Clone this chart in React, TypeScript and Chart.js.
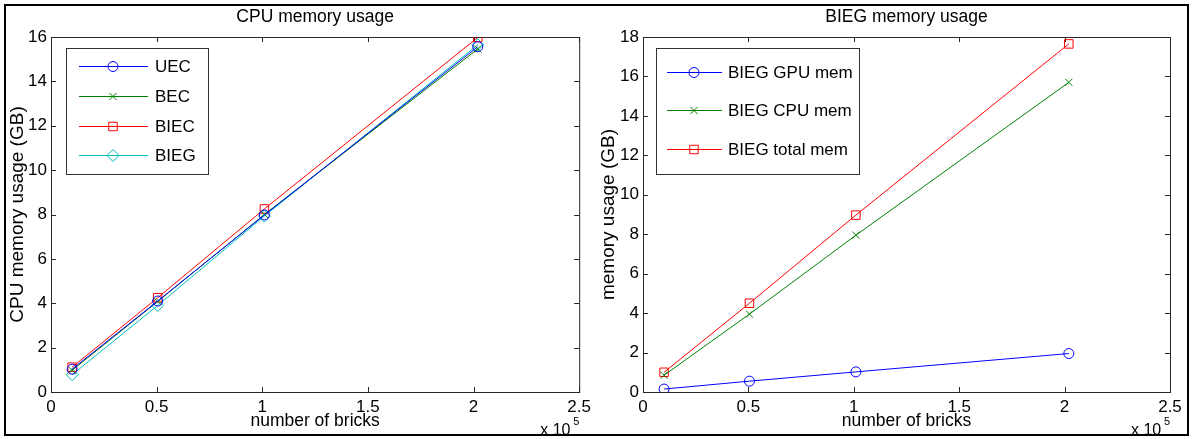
import React, { useEffect, useRef } from 'react';
import Chart from 'chart.js/auto';
import { drawPoint } from 'chart.js/helpers';

// ---------- data ----------
const bricks = [0.1, 0.505, 1.01, 2.02]; // x 10^5
const uec = [1.03, 4.1, 7.98, 15.56];
const bec = [0.98, 4.08, 8.0, 15.46];
const biec = [1.12, 4.25, 8.25, 15.98];
const bieg = [0.78, 3.9, 7.93, 15.65];

const gpuMem = [0.15, 0.55, 1.02, 1.95];
const cpuMem = [0.85, 3.95, 7.95, 15.7];
const totalMem = [1.0, 4.5, 8.97, 17.65];

const leftLabels = ['UEC', 'BEC', 'BIEC', 'BIEG'];
const rightLabels = ['BIEG GPU mem', 'BIEG CPU mem', 'BIEG total mem'];

const FONT = "'Liberation Sans', Arial, Helvetica, sans-serif";
const BLUE = '#0000ff';
const GREEN = '#008000';
const RED = '#ff0000';
const CYAN = '#00bfbf';

const pts = (ys: number[]) => bricks.map((x, i) => ({ x, y: ys[i] }));

function ds(label: string, ys: number[], color: string, style: string, radius: number) {
  return {
    label,
    data: pts(ys),
    borderColor: color,
    backgroundColor: 'rgba(0,0,0,0)',
    borderWidth: 1,
    pointStyle: style,
    pointRadius: radius,
    pointBorderColor: color,
    pointBackgroundColor: 'rgba(0,0,0,0)',
    pointBorderWidth: 1,
    tension: 0,
  };
}

const matlabPlugin = {
  id: 'matlabDecor',
  beforeDatasetsDraw(chart: any) {
    const { ctx, chartArea, scales } = chart;
    const { left, right, top, bottom } = chartArea;
    ctx.save();
    ctx.strokeStyle = '#262626';
    ctx.lineWidth = 1;
    ctx.strokeRect(left + 0.5, top + 0.5, right - left, bottom - top);
    const tl = 5;
    ctx.beginPath();
    scales.x.ticks.forEach((t: any) => {
      const px = Math.round(scales.x.getPixelForValue(t.value)) + 0.5;
      ctx.moveTo(px, bottom);
      ctx.lineTo(px, bottom - tl);
      ctx.moveTo(px, top);
      ctx.lineTo(px, top + tl);
    });
    scales.y.ticks.forEach((t: any) => {
      const py = Math.round(scales.y.getPixelForValue(t.value)) + 0.5;
      ctx.moveTo(left, py);
      ctx.lineTo(left + tl, py);
      ctx.moveTo(right, py);
      ctx.lineTo(right - tl, py);
    });
    ctx.stroke();
    ctx.restore();
  },
  afterDatasetsDraw(chart: any, _args: any, opts: any) {
    const { ctx } = chart;
    const lg = opts.legend;
    if (!lg) return;
    ctx.save();
    ctx.fillStyle = '#ffffff';
    ctx.fillRect(lg.x0, lg.y0, lg.x1 - lg.x0, lg.y1 - lg.y0);
    ctx.strokeStyle = '#333333';
    ctx.lineWidth = 1;
    ctx.strokeRect(lg.x0 + 0.5, lg.y0 + 0.5, lg.x1 - lg.x0, lg.y1 - lg.y0);
    chart.data.datasets.forEach((d: any, i: number) => {
      const y = lg.rows[i];
      ctx.strokeStyle = d.borderColor;
      ctx.lineWidth = 1;
      ctx.beginPath();
      ctx.moveTo(lg.lineX0, y + 0.5);
      ctx.lineTo(lg.lineX1, y + 0.5);
      ctx.stroke();
      ctx.strokeStyle = d.borderColor;
      ctx.fillStyle = 'rgba(0,0,0,0)';
      drawPoint(ctx, { pointStyle: d.pointStyle, radius: d.pointRadius, borderWidth: 1, rotation: 0 } as any, lg.markX, y + 0.5);
      ctx.fillStyle = '#000';
      ctx.font = `${lg.fontSize}px ${FONT}`;
      ctx.textBaseline = 'middle';
      ctx.textAlign = 'left';
      ctx.fillText(d.label, lg.textX, y + 1);
    });
    ctx.restore();
  },
  afterDraw(chart: any, _args: any, opts: any) {
    const { ctx, chartArea } = chart;
    ctx.save();
    ctx.fillStyle = '#000';
    ctx.textAlign = 'center';
    ctx.textBaseline = 'middle';
    ctx.font = `17.5px ${FONT}`;
    ctx.fillText(opts.title, (chartArea.left + chartArea.right) / 2, 17);
    ctx.textAlign = 'left';
    ctx.textBaseline = 'alphabetic';
    ctx.font = `16px ${FONT}`;
    const ex = chartArea.right - 39;
    ctx.fillText('x 10', ex, 435);
    ctx.font = `11px ${FONT}`;
    ctx.fillText('5', ex + 33, 425);
    ctx.restore();
  },
};

function buildConfig(
  datasets: any[],
  yMax: number,
  yTitle: string,
  title: string,
  yWidth: number,
  padRight: number,
  yTitlePad: number,
  legend: any
) {
  return {
    type: 'line',
    data: { datasets },
    plugins: [matlabPlugin],
    options: {
      animation: false,
      responsive: false,
      devicePixelRatio: 1,
      events: [],
      layout: { padding: { left: 0, right: padRight, top: 37, bottom: 3 } },
      plugins: {
        legend: { display: false },
        tooltip: { enabled: false },
        title: { display: false },
        matlabDecor: { title, legend },
      },
      scales: {
        x: {
          type: 'linear',
          min: 0,
          max: 2.5,
          ticks: {
            stepSize: 0.5,
            color: '#000',
            font: { family: FONT, size: 17 },
            padding: 5,
            maxRotation: 0,
            autoSkip: false,
            callback: (v: any) => String(Math.round(Number(v) * 10) / 10),
          },
          grid: { display: false, drawTicks: false },
          border: { display: false },
          title: {
            display: true,
            text: 'number of bricks',
            color: '#000',
            font: { family: FONT, size: 17.5 },
            padding: { top: 0, bottom: 0 },
          },
          afterFit(s: any) {
            s.height = 40;
          },
        },
        y: {
          type: 'linear',
          min: 0,
          max: yMax,
          ticks: {
            stepSize: 2,
            color: '#000',
            font: { family: FONT, size: 17 },
            padding: 4,
            autoSkip: false,
          },
          grid: { display: false, drawTicks: false },
          border: { display: false },
          title: {
            display: true,
            text: yTitle,
            color: '#000',
            font: { family: FONT, size: 19 },
            padding: { top: yTitlePad, bottom: 0 },
          },
          afterFit(s: any) {
            s.width = yWidth;
          },
        },
      },
    },
  };
}

function Panel({ left, width, config }: { left: number; width: number; config: any }) {
  const ref = useRef<HTMLCanvasElement | null>(null);
  useEffect(() => {
    if (!ref.current) return;
    const chart = new Chart(ref.current, config);
    return () => chart.destroy();
  }, []);
  return (
    <canvas
      ref={ref}
      width={width}
      height={435}
      style={{ position: 'absolute', left, top: 0, width, height: 435, display: 'block' }}
    />
  );
}

export default function App() {
  const leftCfg = buildConfig(
    [
      ds(leftLabels[0], uec, BLUE, 'circle', 5),
      ds(leftLabels[1], bec, GREEN, 'crossRot', 5),
      ds(leftLabels[2], biec, RED, 'rect', 6),
      ds(leftLabels[3], bieg, CYAN, 'rectRot', 6),
    ],
    16,
    'CPU memory usage (GB)',
    'CPU memory usage',
    51,
    16,
    6,
    { x0: 66, y0: 48, x1: 208, y1: 174, rows: [66, 96, 126, 155], lineX0: 79, lineX1: 148, markX: 113, textX: 155, fontSize: 17 }
  );
  const rightCfg = buildConfig(
    [
      ds(rightLabels[0], gpuMem, BLUE, 'circle', 5),
      ds(rightLabels[1], cpuMem, GREEN, 'crossRot', 5),
      ds(rightLabels[2], totalMem, RED, 'rect', 6),
    ],
    18,
    'memory usage (GB)',
    'BIEG memory usage',
    47,
    23,
    1,
    { x0: 60, y0: 48, x1: 263, y1: 174, rows: [72, 110, 149], lineX0: 71, lineX1: 126, markX: 98, textX: 132, fontSize: 17 }
  );
  return (
    <div style={{ position: 'absolute', left: 0, top: 0, width: 1193, height: 439, background: '#fff', overflow: 'hidden' }}>
      <Panel left={0} width={596} config={leftCfg} />
      <Panel left={596} width={597} config={rightCfg} />
      <div
        style={{
          position: 'absolute',
          left: 4,
          top: 4,
          width: 1185,
          height: 432,
          boxSizing: 'border-box',
          border: '2px solid #000',
          pointerEvents: 'none',
        }}
      />
    </div>
  );
}
